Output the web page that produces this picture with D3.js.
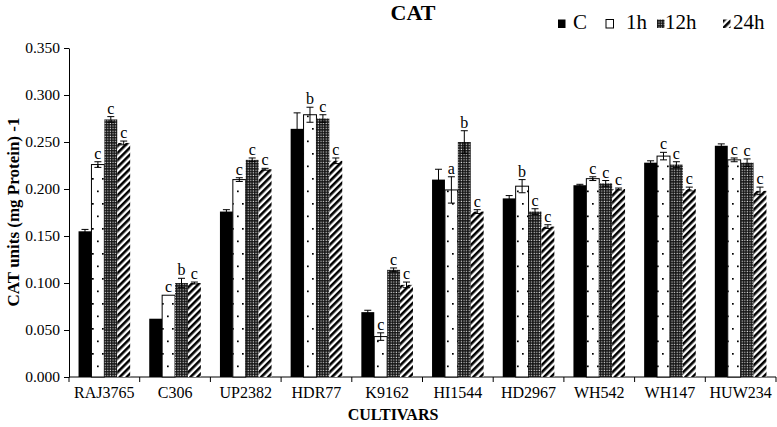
<!DOCTYPE html>
<html><head><meta charset="utf-8">
<script src="https://cdn.jsdelivr.net/npm/d3@7"></script>
<style>body{margin:0;background:#fff}svg{display:block}text{font-family:"Liberation Serif","Times New Roman",serif}</style>
</head><body><svg id="c" width="777" height="427"></svg>
<script>
const categories = ["RAJ3765","C306","UP2382","HDR77","K9162","HI1544","HD2967","WH542","WH147","HUW234"];
const seriesNames = ["C","1h","12h","24h"];
const valC   = [0.155,0.062,0.176,0.264,0.069,0.210,0.190,0.204,0.228,0.246];
const val1h  = [0.226,0.087,0.210,0.279,0.043,0.199,0.203,0.211,0.235,0.231];
const val12h = [0.274,0.100,0.231,0.275,0.114,0.250,0.176,0.206,0.226,0.228];
const val24h = [0.249,0.100,0.221,0.230,0.098,0.176,0.160,0.200,0.200,0.198];
const errC   = [0.002,0.000,0.002,0.017,0.002,0.011,0.003,0.001,0.002,0.002];
const err1h  = [0.003,0.000,0.002,0.008,0.004,0.014,0.007,0.002,0.004,0.002];
const err12h = [0.003,0.005,0.002,0.004,0.002,0.012,0.003,0.003,0.003,0.004];
const err24h = [0.002,0.001,0.001,0.003,0.003,0.002,0.002,0.001,0.002,0.004];
const lab1h  = ["c","c","c","b","c","a","b","c","c","c"];
const lab12h = ["c","b","c","c","c","b","c","c","c","c"];
const lab24h = ["c","c","c","c","c","c","c","c","c","c"];
const yTicks = [0,0.05,0.1,0.15,0.2,0.25,0.3,0.35];

const series = [
  {name:"C", vals:valC, errs:errC, labs:null, fill:"#000"},
  {name:"1h", vals:val1h, errs:err1h, labs:lab1h, fill:"url(#pDots)"},
  {name:"12h", vals:val12h, errs:err12h, labs:lab12h, fill:"url(#pGrid)"},
  {name:"24h", vals:val24h, errs:err24h, labs:lab24h, fill:"url(#pDiag)"}
];

const svg = d3.select("#c");
const defs = svg.append("defs");
const pd = defs.append("pattern").attr("id","pDots").attr("patternUnits","userSpaceOnUse").attr("width",10).attr("height",25);
pd.append("rect").attr("width",10).attr("height",25).attr("fill","#fff");
pd.append("rect").attr("x",2).attr("y",3).attr("width",1.7).attr("height",1.7).attr("fill","#000");
pd.append("rect").attr("x",7).attr("y",15.5).attr("width",1.7).attr("height",1.7).attr("fill","#000");
const pg = defs.append("pattern").attr("id","pGrid").attr("patternUnits","userSpaceOnUse").attr("width",2.6).attr("height",2.6);
pg.append("rect").attr("width",2.6).attr("height",2.6).attr("fill","#111");
pg.append("rect").attr("x",0.6).attr("y",0.6).attr("width",1.2).attr("height",1.2).attr("fill","#ddd");
const pdg = defs.append("pattern").attr("id","pDiag").attr("patternUnits","userSpaceOnUse").attr("width",5).attr("height",5).attr("patternTransform","rotate(45)");
pdg.append("rect").attr("width",5).attr("height",5).attr("fill","#fff");
pdg.append("rect").attr("width",2.6).attr("height",5).attr("fill","#000");

const x0 = d3.scaleBand().domain(categories).range([69,776]).paddingInner(0.27).paddingOuter(0.135);
const x1 = d3.scaleBand().domain(seriesNames).range([0,x0.bandwidth()]);
const y = d3.scaleLinear().domain([0,0.35]).range([377,48]);

const yAxis = d3.axisLeft(y).tickValues(yTicks).tickFormat(d3.format(".3f")).tickSize(5).tickSizeOuter(0);
const gy = svg.append("g").attr("transform","translate(69,0)").call(yAxis);
gy.selectAll("text").attr("font-size",15.5).attr("fill","#000").attr("dx","-1").style("font-family","'Liberation Serif',serif");
gy.select(".domain").attr("stroke","#000");
gy.selectAll(".tick line").attr("stroke","#000");

const xAxisScale = d3.scaleBand().domain(categories).range([69,776]);
const gx = svg.append("g").attr("transform","translate(0,377)");
gx.append("line").attr("x1",69).attr("x2",776).attr("stroke","#000");
gx.selectAll("line.t").data(categories.concat(["__end"])).join("line").attr("class","t")
  .attr("x1",(d,i)=> i<categories.length ? xAxisScale(d) : 776)
  .attr("x2",(d,i)=> i<categories.length ? xAxisScale(d) : 776)
  .attr("y1",0).attr("y2",5).attr("stroke","#000");
gx.selectAll("text").data(categories).join("text")
  .attr("x",d=>xAxisScale(d)+xAxisScale.bandwidth()/2).attr("y",21)
  .attr("text-anchor","middle").attr("font-size",16).text(d=>d);

const g = svg.append("g");
series.forEach(s=>{
  categories.forEach((c,i)=>{
    const bx = x0(c)+x1(s.name);
    const bw = x1.bandwidth();
    g.append("rect").attr("x",bx).attr("y",y(s.vals[i])).attr("width",bw).attr("height",y(0)-y(s.vals[i]))
      .attr("fill",s.fill).attr("stroke",s.name==="1h"?"#000":"none").attr("stroke-width",1);
    const e = s.errs[i];
    if(e>0){
      const cx = bx+bw/2;
      g.append("line").attr("x1",cx).attr("x2",cx).attr("y1",y(s.vals[i]+e)).attr("y2",y(s.vals[i]-e)).attr("stroke","#000").attr("stroke-width",1);
      [s.vals[i]+e,s.vals[i]-e].forEach(v=>g.append("line").attr("x1",cx-3.5).attr("x2",cx+3.5).attr("y1",y(v)).attr("y2",y(v)).attr("stroke","#000").attr("stroke-width",1));
    }
    if(s.labs){
      g.append("text").attr("x",bx+bw/2).attr("y",y(s.vals[i]+e)-3).attr("text-anchor","middle").attr("font-size",16).text(s.labs[i]);
    }
  });
});

svg.append("text").attr("x",413).attr("y",20).attr("text-anchor","middle").attr("font-size",22).attr("font-weight","bold").text("CAT");
svg.append("text").attr("x",393).attr("y",420).attr("text-anchor","middle").attr("font-size",16).attr("font-weight","bold").text("CULTIVARS");
svg.append("text").attr("transform","translate(19,212) rotate(-90)").attr("text-anchor","middle").attr("font-size",17).attr("font-weight","bold").text("CAT units (mg Protein) -1");

const legMarkX = [558,606,657,723];
const legTextX = [573,626,665,733];
const legend = svg.append("g");
series.forEach((s,i)=>{
  legend.append("rect").attr("x",legMarkX[i]).attr("y",19.5).attr("width",7.5).attr("height",8.5).attr("fill",s.fill).attr("stroke",s.name==="1h"?"#000":"none");
  legend.append("text").attr("x",legTextX[i]).attr("y",29).attr("font-size",21).text(s.name);
});
</script></body></html>
